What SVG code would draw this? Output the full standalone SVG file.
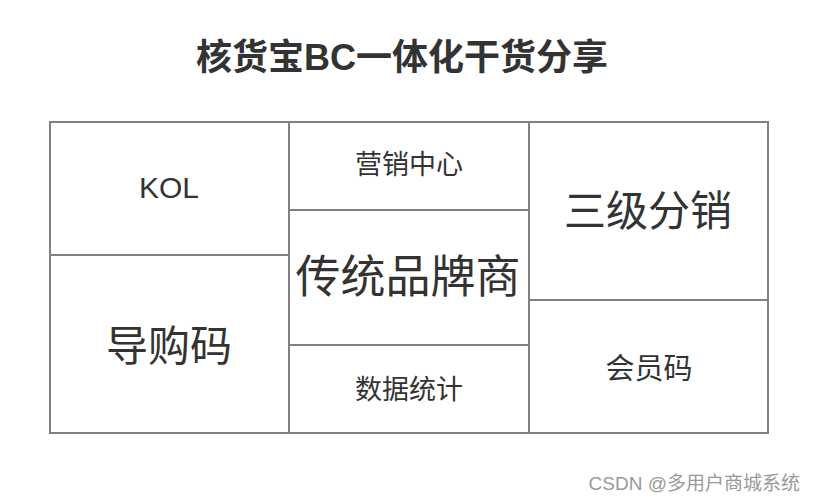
<svg xmlns="http://www.w3.org/2000/svg" width="815" height="501" viewBox="0 0 815 501">
<style>
.cell{fill:#fff;stroke:#808080;stroke-width:2}
.t{font-family:"Liberation Sans","Noto Sans CJK SC",sans-serif;fill:#333;text-anchor:middle}
</style>
<rect width="815" height="501" fill="#fff"/>
<text class="t" x="402" y="70" font-size="36" font-weight="bold">核货宝BC一体化干货分享</text>
<g id="kol"><rect class="cell" x="50" y="122" width="239" height="133"/><text class="t" x="169" y="198" font-size="30">KOL</text></g>
<g id="daogouma"><rect class="cell" x="50" y="255" width="239" height="178"/><text class="t" x="169" y="361" font-size="42">导购码</text></g>
<g id="yingxiao"><rect class="cell" x="289" y="122" width="240" height="88"/><text class="t" x="409" y="174" font-size="27">营销中心</text></g>
<g id="chuantong"><rect class="cell" x="289" y="210" width="240" height="135"/><text class="t" x="408" y="293" font-size="45">传统品牌商</text></g>
<g id="shuju"><rect class="cell" x="289" y="345" width="240" height="88"/><text class="t" x="409" y="399" font-size="27">数据统计</text></g>
<g id="sanji"><rect class="cell" x="529" y="122" width="239" height="178"/><text class="t" x="648" y="226" font-size="42">三级分销</text></g>
<g id="huiyuan"><rect class="cell" x="529" y="300" width="239" height="133"/><text class="t" x="649" y="379" font-size="29">会员码</text></g>
<g id="connectors"></g>
<text x="800" y="490" font-family="'Liberation Sans','Noto Sans CJK SC',sans-serif" font-size="19" fill="#999" text-anchor="end">CSDN @多用户商城系统</text>
</svg>
